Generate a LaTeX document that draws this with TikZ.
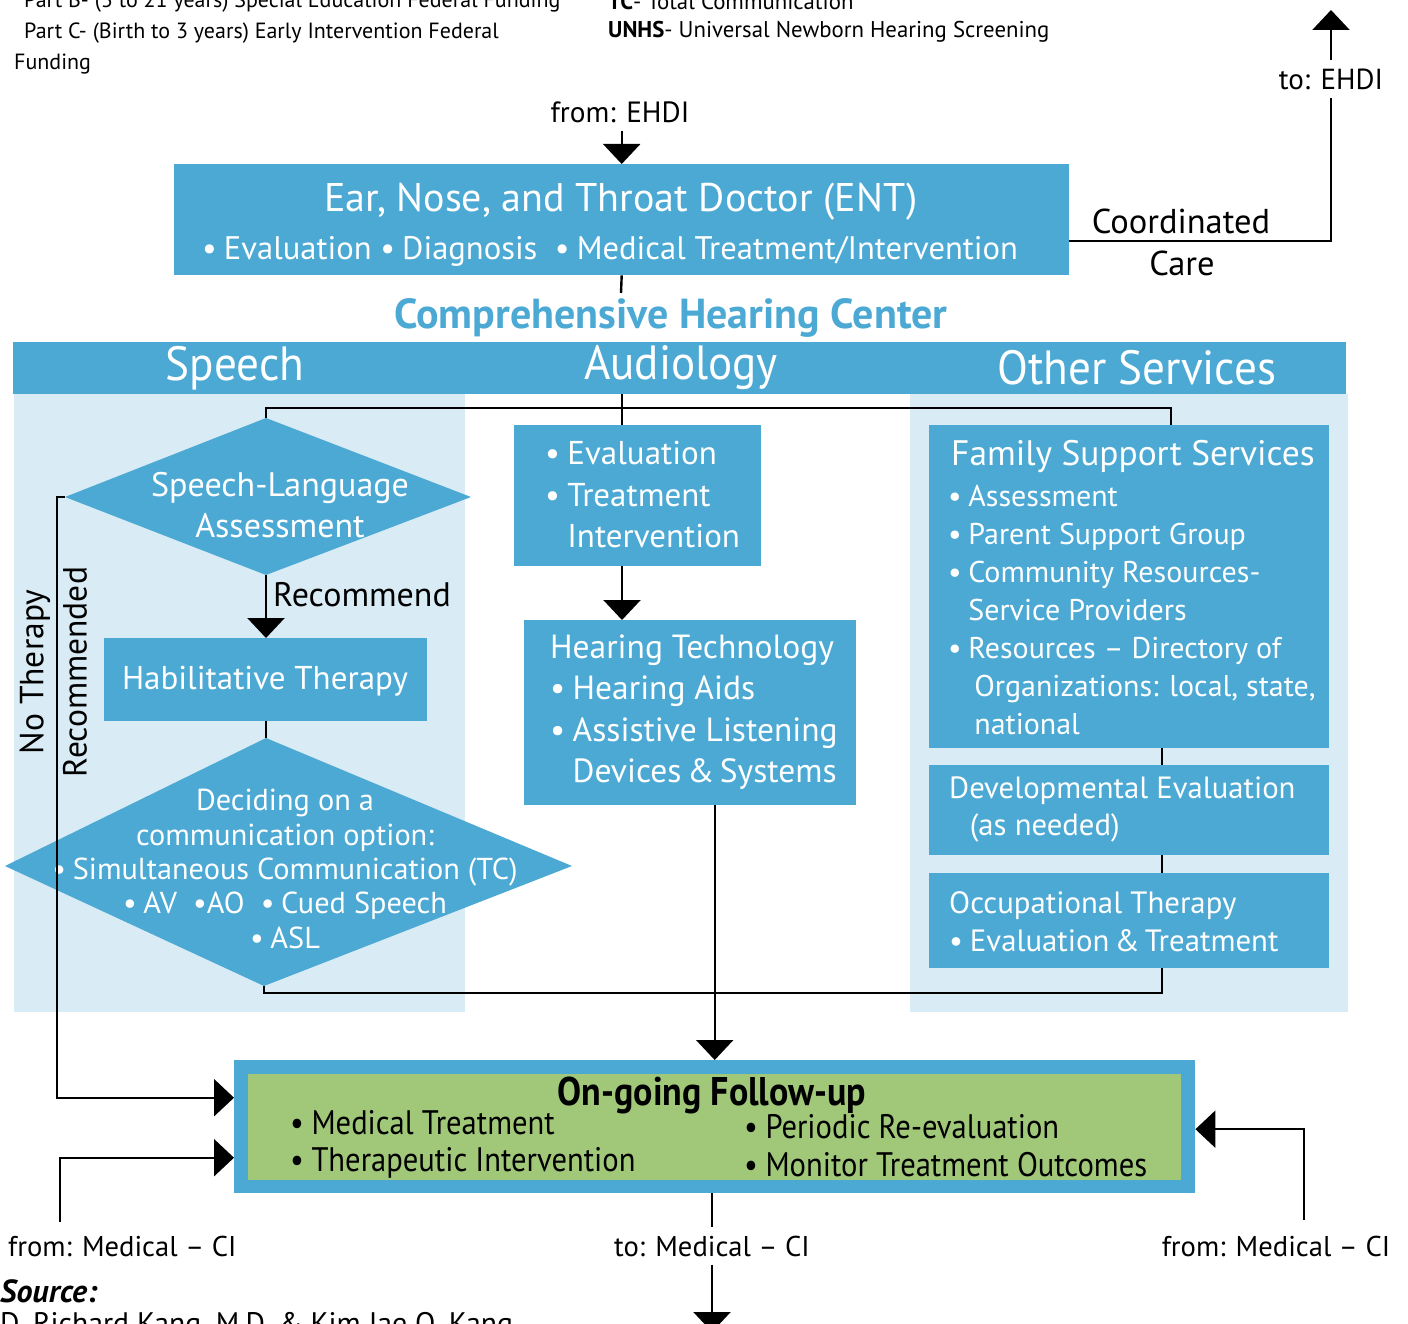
\documentclass[tikz,border=0pt]{standalone}
\usepackage{fontspec}
\setmainfont{PT Sans}
\newfontfamily\condfont[FakeStretch=0.9]{PT Sans}
\newfontfamily\headfont[FakeStretch=0.94]{PT Sans}
\usetikzlibrary{arrows.meta}
\definecolor{hcblue}{HTML}{4BA9D4}
\definecolor{hclight}{HTML}{D9ECF5}
\definecolor{hcgreen}{HTML}{A1C879}
\newcommand{\fs}[2]{\fontsize{#1}{#2}\selectfont}
\newcommand{\bul}{\textbullet\kern0.22em}
\newcommand{\ind}{\phantom{\bul}}
\tikzset{
	box/.style={fill=hcblue, inner sep=0pt, anchor=north west},
	wtxt/.style={inner sep=0pt, text=white, align=left, anchor=west},
	btxt/.style={inner sep=0pt, text=black, align=left, anchor=west},
	linklabel/.style={inner xsep=0pt, inner ysep=8pt, text=black},
	link/.style={line width=2.4pt},
	arr/.style={link, -{Triangle[width=37pt,length=20pt]}},
}

\begin{document}
\begin{tikzpicture}[x=1pt, y=-1pt]
	\useasboundingbox (0,0) rectangle (1408,1324);
	%%%%% NOTES %%%%%
	\node[btxt, font=\fs{22}{26}] (partb) at (24,2) {Part B- (3 to 21 years) Special Education Federal Funding};
	\node[btxt, font=\fs{22}{26}] (partc) at (24,33) {Part C- (Birth to 3 years) Early Intervention Federal};
	\node[btxt, font=\fs{22}{26}] (funding) at (14,64) {Funding};
	\node[btxt, font=\fs{22.8}{26}] (tcnote) at (608,2) {\textbf{TC}- Total Communication};
	\node[btxt, font=\fs{22.8}{26}] (unhsnote) at (608,32) {\textbf{UNHS}- Universal Newborn Hearing Screening};

	%%%%% ENT %%%%%
	\node[linklabel, font=\fs{29.3}{32}] (fromehdi) at (620,112) {from: EHDI};
	\node[box, minimum width=895pt, minimum height=111pt] (ent) at (174,164) {};
	\node[inner sep=0pt, text=white, font=\fs{40}{44}] (enttitle) at (621,202) {Ear, Nose, and Throat Doctor (ENT)};
	\node[inner sep=0pt, text=white, font=\fs{32.6}{36}] (entlist) at (610,251) {\bul Evaluation \bul Diagnosis \ \bul Medical Treatment/Intervention};
	\draw[arr] (fromehdi.south -| ent.north) -- (ent.north);

	\coordinate (chctop) at (621,293);
	\draw[link] (ent.south) -- (chctop);

	\node[inner sep=0pt, font=\fs{34.5}{38}] (coord) at (1181,221) {Coordinated};
	\node[inner sep=0pt, font=\fs{34.5}{38}] (care) at (1182,263) {Care};
	\node[linklabel, font=\fs{29}{32}] (toehdi) at (1331,79) {to: EHDI};
	\coordinate (ccturn) at (1331,241);
	\coordinate (ehdiout) at (1331,10);
	\draw[link] (ccturn -| ent.east) -- (ccturn) -- (toehdi.south);
	\draw[arr] (toehdi.north) -- (ehdiout);

	%%%%% CENTER %%%%%
	\node[inner sep=0pt, text=hcblue, font=\bfseries\fs{42}{46}] (chc) at (671,318) {Comprehensive Hearing Center};
	\fill[hclight] (14,394) rectangle (465,1012);
	\fill[hclight] (910,394) rectangle (1348,1012);
	\node[box, minimum width=1333pt, minimum height=52pt] (band) at (13,342) {};
	\node[inner sep=0pt, text=white, font=\headfont\fs{48}{52}] (speech) at (235,368) {Speech};
	\node[inner sep=0pt, text=white, font=\headfont\fs{48}{52}] (audio) at (681,368) {Audiology};
	\node[inner sep=0pt, text=white, font=\headfont\fs{48}{52}] (other) at (1137,368) {Other Services};

	%%%%% SPEECH %%%%%
	\coordinate (slatop) at (266,418);
	\coordinate (slabot) at (266,575);
	\coordinate (slaleft) at (65,497);
	\coordinate (slaright) at (471,497);
	\fill[hcblue] (slatop) -- (slaright) -- (slabot) -- (slaleft) -- cycle;
	\node[inner sep=0pt, text=white, align=center, font=\fs{34}{41}] (sla) at (280,505) {Speech-Language\\Assessment};

	\node[box, minimum width=323pt, minimum height=83pt] (hab) at (104,638) {};
	\node[inner sep=0pt, text=white, font=\fs{33}{36}] (habtext) at (265,681) {Habilitative Therapy};
	\draw[arr] (slabot) -- (hab.north -| slabot);
	\node[btxt, font=\fs{34}{36}] (recommend) at (273,595) {Recommend};

	\coordinate (dcotop) at (266,738);
	\coordinate (dcobot) at (264,986);
	\coordinate (dcoleft) at (5,866);
	\coordinate (dcoright) at (572,866);
	\fill[hcblue] (dcotop) -- (dcoright) -- (dcobot) -- (dcoleft) -- cycle;
	\node[inner sep=0pt, text=white, align=center, font=\fs{30.3}{34.3}] (dco) at (285,869)
		{Deciding on a\\communication option:\\\bul Simultaneous Communication (TC)\\\bul AV \ \textbullet AO \ \bul Cued Speech\\\bul ASL};
	\draw[link] (hab.south -| dcotop) -- (dcotop);

	\node[inner sep=0pt, rotate=90, font=\fs{33.5}{36}] (nother) at (35,672) {No Therapy};
	\node[inner sep=0pt, rotate=90, font=\fs{33.5}{36}] (norec) at (75,672) {Recommended};

	%%%%% AUDIOLOGY %%%%%
	\coordinate (audx) at (622,0);
	\node[box, minimum width=247pt, minimum height=141pt] (eval) at (514,425) {};
	\node[wtxt, font=\fs{33}{41.5}] (evaltext) at (545,495) {\bul Evaluation\\\bul Treatment\\\ind Intervention};
	\node[box, minimum width=332pt, minimum height=185pt] (ht) at (524,620) {};
	\node[wtxt, font=\fs{33.5}{41.3}] (httext) at (550,712) {Hearing Technology\\\bul Hearing Aids\\\bul Assistive Listening\\\ind Devices\,\&\,Systems};
	\draw[link] (band.south -| audx) -- (eval.north -| audx);
	\draw[arr] (eval.south -| audx) -- (ht.north -| audx);

	%%%%% OTHER SERVICES %%%%%
	\node[box, minimum width=400pt, minimum height=323pt] (fss) at (929,425) {};
	\node[wtxt, font=\fs{35.4}{38}] (fsstitle) at (951,457) {Family Support Services};
	\node[wtxt, font=\fs{30}{38}] (fsslist) at (948,610) {\bul Assessment\\\bul Parent Support Group\\\bul Community Resources-\\\ind Service Providers\\\bul Resources -- Directory of\\\ind\kern0.2em Organizations: local, state,\\\ind\kern0.2em national};
	\node[box, minimum width=400pt, minimum height=90pt] (dev) at (929,765) {};
	\node[wtxt, font=\fs{30.7}{37}] (devtext) at (949,810) {Developmental Evaluation\\\ind(as needed)};
	\node[box, minimum width=400pt, minimum height=95pt] (ot) at (929,873) {};
	\node[wtxt, font=\fs{30.8}{38}] (ottext) at (949,922) {Occupational Therapy\\\bul Evaluation\,\&\,Treatment};

	\coordinate (hubL) at (266,408);
	\coordinate (hubR) at (1171,408);
	\coordinate (botR) at (1162,993);
	\draw[link] (slatop) -- (hubL) -- (hubR) -- (hubR |- fss.north);
	\draw[link] (fss.south -| botR) -- (dev.north -| botR);
	\draw[link] (dev.south -| botR) -- (ot.north -| botR);
	\draw[link] (dcobot) |- (botR) -- (botR |- ot.south);

	%%%%% FOLLOW-UP %%%%%
	\node[box, minimum width=961pt, minimum height=133pt] (fu) at (234,1060) {};
	\node[fill=hcgreen, inner sep=0pt, minimum width=933pt, minimum height=106pt] (fuin) at (fu.center) {};
	\node[inner sep=0pt, font=\condfont\bfseries\fs{40}{44}] (futitle) at (712,1095) {On-going Follow-up};
	\node[btxt, font=\condfont\fs{34}{37}] (fulistL) at (290,1144) {\bul Medical Treatment\\\bul Therapeutic Intervention};
	\node[btxt, font=\condfont\fs{34}{38}] (fulistR) at (744,1146) {\bul Periodic Re-evaluation\\\bul Monitor Treatment Outcomes};
	\draw[arr] (ht.south -| fu.north) -- (fu.north);
	\draw[arr] (slaleft) -- (57,497) |- ([yshift=29pt]fu.west);

	%%%%% MEDICAL - CI %%%%%
	\node[linklabel, anchor=west, font=\fs{28.6}{32}] (frommcL) at (8,1246) {from: Medical -- CI};
	\node[linklabel, font=\fs{28.6}{32}] (tomc) at (712,1246) {to: Medical -- CI};
	\node[linklabel, font=\fs{28.6}{32}] (frommcR) at (1276,1246) {from: Medical -- CI};
	\coordinate (mcL) at (60,1222);
	\coordinate (mcR) at (1304,1220);
	\coordinate (mcout) at (712,1332);
	\draw[arr] (mcL) |- ([yshift=-31pt]fu.west);
	\draw[arr] (mcR) |- ([yshift=-2.5pt]fu.east);
	\draw[link] (fu.south -| tomc.north) -- (tomc.north);
	\draw[arr] (tomc.south) -- (mcout);

	%%%%% SOURCE %%%%%
	\node[btxt, font=\bfseries\itshape\fs{32}{34}] (source) at (0,1291) {Source:};
	\node[btxt, font=\fs{29.7}{32}] (authors) at (0,1326) {D. Richard Kang, M.D. \& Kim Jae O. Kang};
\end{tikzpicture}
\end{document}
